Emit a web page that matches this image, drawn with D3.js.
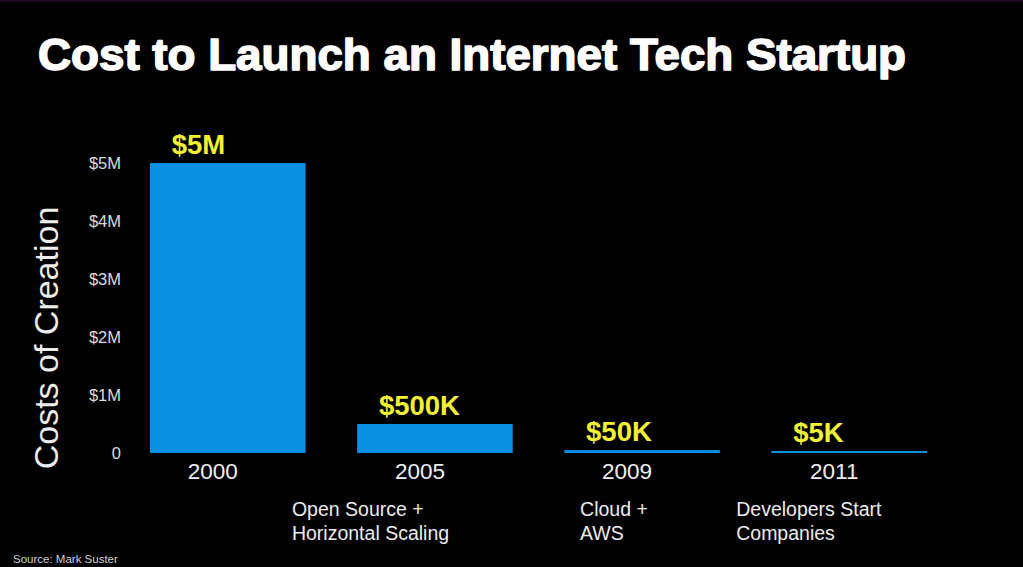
<!DOCTYPE html>
<html>
<head>
<meta charset="utf-8">
<script src="https://cdn.jsdelivr.net/npm/d3@7"></script>
<style>
  html, body { margin: 0; padding: 0; background: #000; }
  svg { display: block; }
  text { font-family: "Liberation Sans", Arial, Helvetica, sans-serif; }
</style>
</head>
<body>
<script>
// ---- data ----
const years = ["2000", "2005", "2009", "2011"];
const costs = [5000000, 500000, 50000, 5000];
const valueLabels = ["$5M", "$500K", "$50K", "$5K"];
const annotations = [[], ["Open Source +", "Horizontal Scaling"], ["Cloud +", "AWS"], ["Developers Start", "Companies"]];
const yTickValues = [0, 1000000, 2000000, 3000000, 4000000, 5000000];
const yTickLabels = ["0", "$1M", "$2M", "$3M", "$4M", "$5M"];

// ---- layout ----
const W = 1023, H = 567;
const annotOffset = [0, -128, -47, -98]; // annotation left edge relative to year label centre

const svg = d3.select("body").append("svg").attr("width", W).attr("height", H);
svg.append("rect").attr("width", W).attr("height", H).attr("fill", "#000");
svg.append("rect").attr("width", W).attr("height", 2).attr("fill", "#1e0a1e");

const x = d3.scaleBand().domain(years).range([150, 927]).paddingInner(0.249).paddingOuter(0);
const y = d3.scaleLinear().domain([0, 5000000]).range([453, 163]);

// title
svg.append("text")
  .attr("x", 38).attr("y", 70)
  .attr("fill", "#fff")
  .attr("stroke", "#fff").attr("stroke-width", 1.6).attr("stroke-linejoin", "round")
  .attr("font-size", 45).attr("font-weight", "bold")
  .attr("textLength", 868).attr("lengthAdjust", "spacingAndGlyphs")
  .text("Cost to Launch an Internet Tech Startup");

// y axis
const yAxis = d3.axisLeft(y).tickValues(yTickValues).tickFormat((d, i) => yTickLabels[i]).tickSize(0).tickPadding(0);
const gy = svg.append("g").attr("transform", "translate(121,0)").call(yAxis);
gy.select(".domain").remove();
gy.selectAll("text").attr("fill", "#dcdcdc").attr("font-size", 16.5)
  .style("font-family", '"Liberation Sans", Arial, sans-serif');

// y title
svg.append("text")
  .attr("transform", "translate(58,338) rotate(-90)")
  .attr("text-anchor", "middle")
  .attr("fill", "#ececec")
  .attr("font-size", 34)
  .text("Costs of Creation");

// bars
const data = years.map((yr, i) => ({ yr, v: costs[i], label: valueLabels[i], notes: annotations[i], off: annotOffset[i] }));

svg.append("g").selectAll("rect").data(data).join("rect")
  .attr("x", d => x(d.yr))
  .attr("width", x.bandwidth())
  .attr("y", d => Math.min(y(d.v), y(0) - 2))
  .attr("height", d => Math.max(y(0) - y(d.v), 2))
  .attr("fill", "#0a8fe2");

// x axis (year labels)
const xAxis = d3.axisBottom(x).tickSize(0).tickPadding(0);
const gx = svg.append("g").attr("transform", "translate(-15,462)").call(xAxis);
gx.select(".domain").remove();
gx.selectAll("text").attr("fill", "#f0f0f0").attr("font-size", 22.5)
  .attr("dy", "0.76em")
  .style("font-family", '"Liberation Sans", Arial, sans-serif');

// value labels
svg.append("g").selectAll("text").data(data).join("text")
  .attr("x", d => x(d.yr) + x.bandwidth() / 2 - 15 - 41)
  .attr("y", d => Math.min(y(d.v), y(0) - 2) - 9)
  .attr("fill", "#f2f232")
  .attr("font-size", 27.5).attr("font-weight", "bold")
  .text(d => d.label);

// annotations
const ann = svg.append("g").selectAll("text").data(data.filter(d => d.notes.length)).join("text")
  .attr("fill", "#ececec")
  .attr("font-size", 19.5);
ann.selectAll("tspan").data(d => d.notes.map((t, j) => ({ t, j, x0: x(d.yr) + x.bandwidth() / 2 - 15 + d.off }))).join("tspan")
  .attr("x", d => d.x0)
  .attr("y", d => 516 + d.j * 24)
  .text(d => d.t);

// source
svg.append("text")
  .attr("x", 13).attr("y", 563)
  .attr("fill", "#cfcfcf")
  .attr("font-size", 11.5)
  .text("Source: Mark Suster");
</script>
</body>
</html>
